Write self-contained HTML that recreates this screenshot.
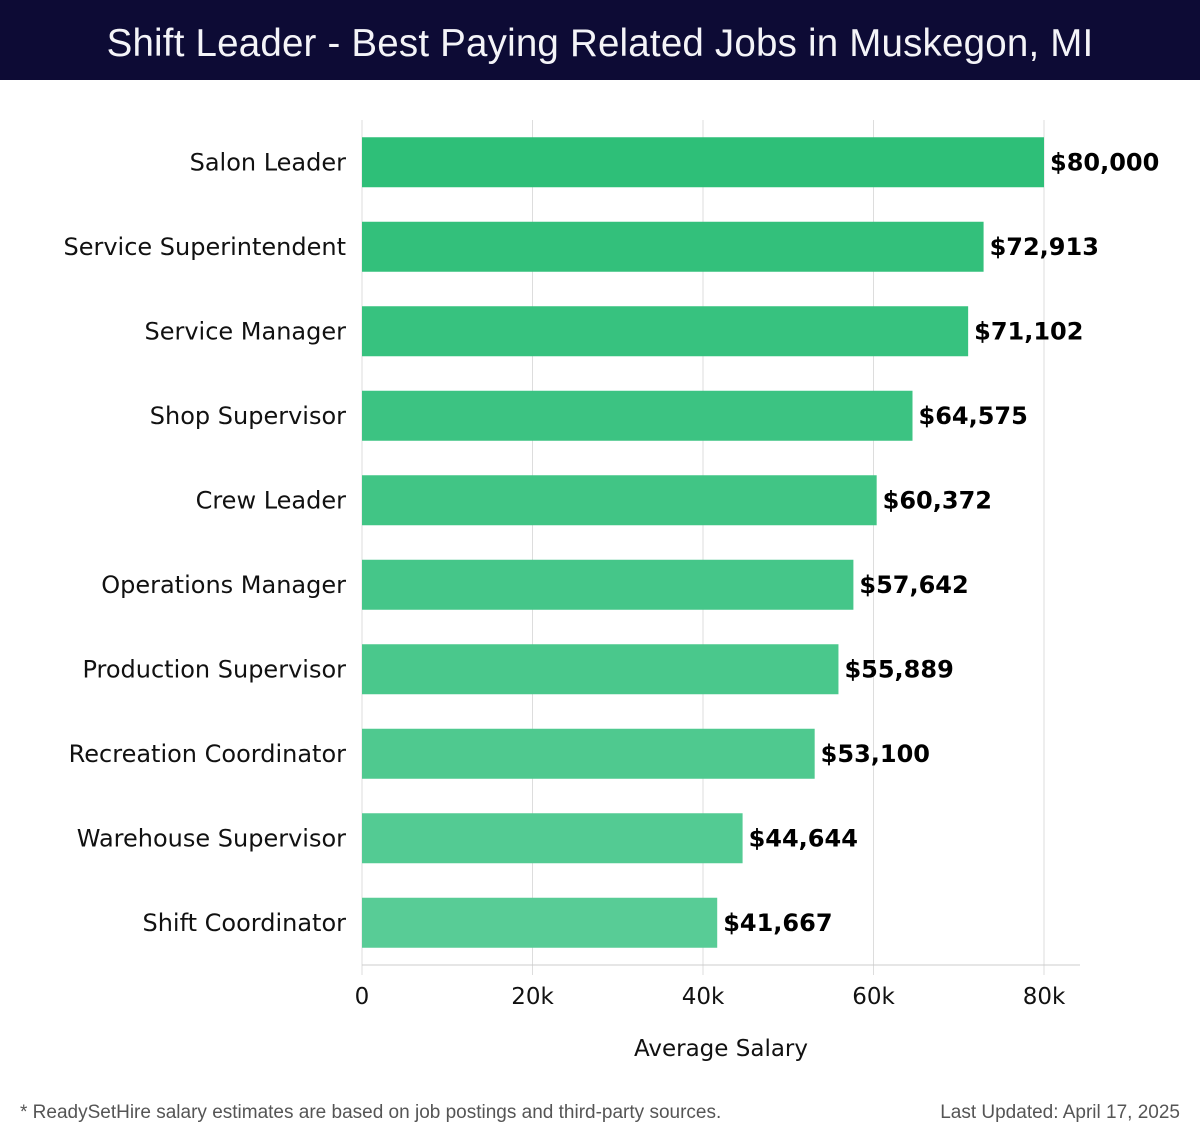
<!DOCTYPE html>
<html><head><meta charset="utf-8"><style>
body{margin:0;width:1200px;height:1140px;background:#fff;overflow:hidden;font-family:"DejaVu Sans","Liberation Sans",sans-serif}
#hdr{position:absolute;left:0;top:0;width:1200px;height:80px;background:#0d0b35;color:#f4f4f8;font:38.5px "Liberation Sans",sans-serif;text-align:center;line-height:88px;letter-spacing:0.2px}
.foot{position:absolute;top:1102px;font:19px "Liberation Sans",sans-serif;color:#555}
</style></head><body>
<div id="hdr">Shift Leader - Best Paying Related Jobs in Muskegon, MI</div>
<svg id="chart" width="1200" height="1140" style="position:absolute;left:0;top:0"></svg>
<div class="foot" style="left:20px">* ReadySetHire salary estimates are based on job postings and third-party sources.</div>
<div class="foot" style="right:20px">Last Updated: April 17, 2025</div>
<script>
const categories=["Salon Leader","Service Superintendent","Service Manager","Shop Supervisor","Crew Leader","Operations Manager","Production Supervisor","Recreation Coordinator","Warehouse Supervisor","Shift Coordinator"];
const salaries=[80000,72913,71102,64575,60372,57642,55889,53100,44644,41667];
const ticks=[0,20000,40000,60000,80000];
const tickLabels=["0","20k","40k","60k","80k"];
const NS="http://www.w3.org/2000/svg",svg=document.getElementById('chart');
const x0=362,x1=1044,plotTop=120,plotBottom=965,band=(plotBottom-plotTop)/categories.length;
const xs=v=>x0+(v/80000)*(x1-x0);
const yc=i=>plotTop+band*(i+0.5);
function mk(t,a){const e=document.createElementNS(NS,t);for(const k in a)e.setAttribute(k,a[k]);svg.appendChild(e);return e;}
ticks.forEach((t,i)=>{
 const g=mk('line',{x1:xs(t),x2:xs(t),y1:plotTop,y2:plotBottom+10,stroke:'#ddd','stroke-width':1});
 
 
 const l=mk('text',{x:xs(t),y:1004,'text-anchor':'middle','font-size':23,fill:'#111'});l.textContent=tickLabels[i];
 
 
});
const ax=mk('line',{x1:x0,x2:1080,y1:plotBottom,y2:plotBottom,stroke:'#ccc'});


categories.forEach((c,i)=>{
 const y=yc(i),f=i/(categories.length-1);
 const r=Math.round(46+f*42),g=Math.round(191+f*13),b=Math.round(120+f*30);
 const bar=mk('rect',{x:x0,y:y-25,width:xs(salaries[i])-x0,height:50,fill:`rgb(${r},${g},${b})`});
 
 
 const lab=mk('text',{x:346,y:y+8,'text-anchor':'end','font-size':24,fill:'#111'});lab.textContent=c;
 
 
 const v=mk('text',{x:xs(salaries[i])+6,y:y+8,'font-size':24,'font-weight':'bold',fill:'#000'});v.textContent='$'+salaries[i].toLocaleString('en-US');
 
 
});
const xt=mk('text',{x:721,y:1056,'text-anchor':'middle','font-size':23,fill:'#111'});xt.textContent='Average Salary';


</script>
</body></html>
